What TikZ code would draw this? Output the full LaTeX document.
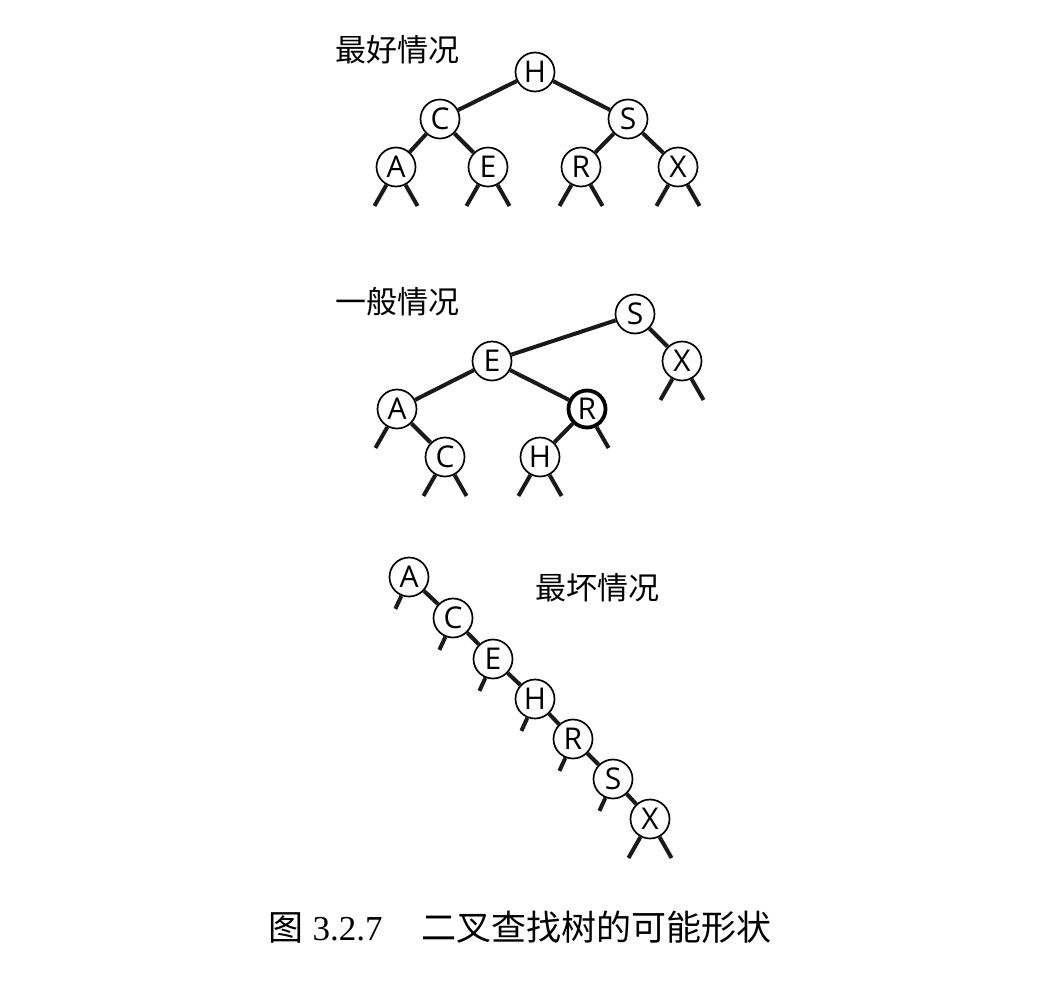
\documentclass[tikz,border=0pt]{standalone}
\usepackage{fontspec}
\setmainfont{Liberation Serif}
\setsansfont{Open Sans}
\newfontfamily\cjk{Noto Sans CJK SC}
\begin{document}
\begin{tikzpicture}[x=1pt,y=-1pt,
  nd/.style={circle,draw,line width=1.7pt,fill=white,minimum size=39pt,inner sep=0pt,
    font=\fontsize{30}{30}\selectfont\sffamily},
  thicknd/.style={nd,line width=3.8pt,minimum size=37pt},
  edge/.style={line width=4pt,draw=black!90},
  lbl/.style={font=\fontsize{31}{31}\selectfont\cjk,inner sep=0pt},
  captxt/.style={font=\fontsize{35}{35}\selectfont,inner sep=0pt}]
\useasboundingbox (0,0) rectangle (1056,1006);

% ---------- best case ----------
\node[lbl] (lbest) at (397,50) {最好情况};
\node[nd] (bH) at (535,72) {H};
\node[nd] (bC) at (440,119) {C};
\node[nd] (bS) at (628,119) {S};
\node[nd] (bA) at (396,167) {A};
\node[nd] (bE) at (488,167) {E};
\node[nd] (bR) at (581,167) {R};
\node[nd] (bX) at (678,167) {X};
\draw[edge] (bH) -- (bC);
\draw[edge] (bH) -- (bS);
\draw[edge] (bC) -- (bA);
\draw[edge] (bC) -- (bE);
\draw[edge] (bS) -- (bR);
\draw[edge] (bS) -- (bX);
\foreach \n in {bA,bE,bR,bX}{
  \draw[edge] (\n.-118) -- +(-12,21);
  \draw[edge] (\n.-62) -- +(12,21);
}

% ---------- average case ----------
\node[lbl] (lavg) at (397,302) {一般情况};
\node[nd] (gS) at (635,314) {S};
\node[nd] (gX) at (682,361) {X};
\node[nd] (gE) at (492,361) {E};
\node[nd] (gA) at (397,409) {A};
\node[thicknd] (gR) at (587,409) {R};
\node[nd] (gC) at (445,457) {C};
\node[nd] (gH) at (540,457) {H};
\draw[edge] (gS) -- (gE);
\draw[edge] (gS) -- (gX);
\draw[edge] (gE) -- (gA);
\draw[edge] (gE) -- (gR);
\draw[edge] (gA) -- (gC);
\draw[edge] (gR) -- (gH);
\foreach \n in {gX,gC,gH}{
  \draw[edge] (\n.-118) -- +(-12,21);
  \draw[edge] (\n.-62) -- +(12,21);
}
\draw[edge] (gA.-118) -- +(-12,21);
\draw[edge] (gR.-62) -- +(12,21);

% ---------- worst case ----------
\node[lbl] (lworst) at (597,588) {最坏情况};
\node[nd] (wA) at (409,577) {A};
\node[nd] (wC) at (453,618) {C};
\node[nd] (wE) at (493,659) {E};
\node[nd] (wH) at (535,699) {H};
\node[nd] (wR) at (573,739) {R};
\node[nd] (wS) at (613,779) {S};
\node[nd] (wX) at (650,819) {X};
\draw[edge] (wA) -- (wC);
\draw[edge] (wC) -- (wE);
\draw[edge] (wE) -- (wH);
\draw[edge] (wH) -- (wR);
\draw[edge] (wR) -- (wS);
\draw[edge] (wS) -- (wX);
\foreach \n in {wA,wC,wE,wH,wR,wS}{
  \draw[edge] (\n.-112) -- +(-6,13);
}
\draw[edge] (wX.-118) -- +(-12,21);
\draw[edge] (wX.-62) -- +(12,21);

% ---------- caption ----------
\node[captxt] (caption) at (520,927) {{\cjk 图} 3.2.7\hspace{1.1em}{\cjk 二叉查找树的可能形状}};
\end{tikzpicture}
\end{document}
